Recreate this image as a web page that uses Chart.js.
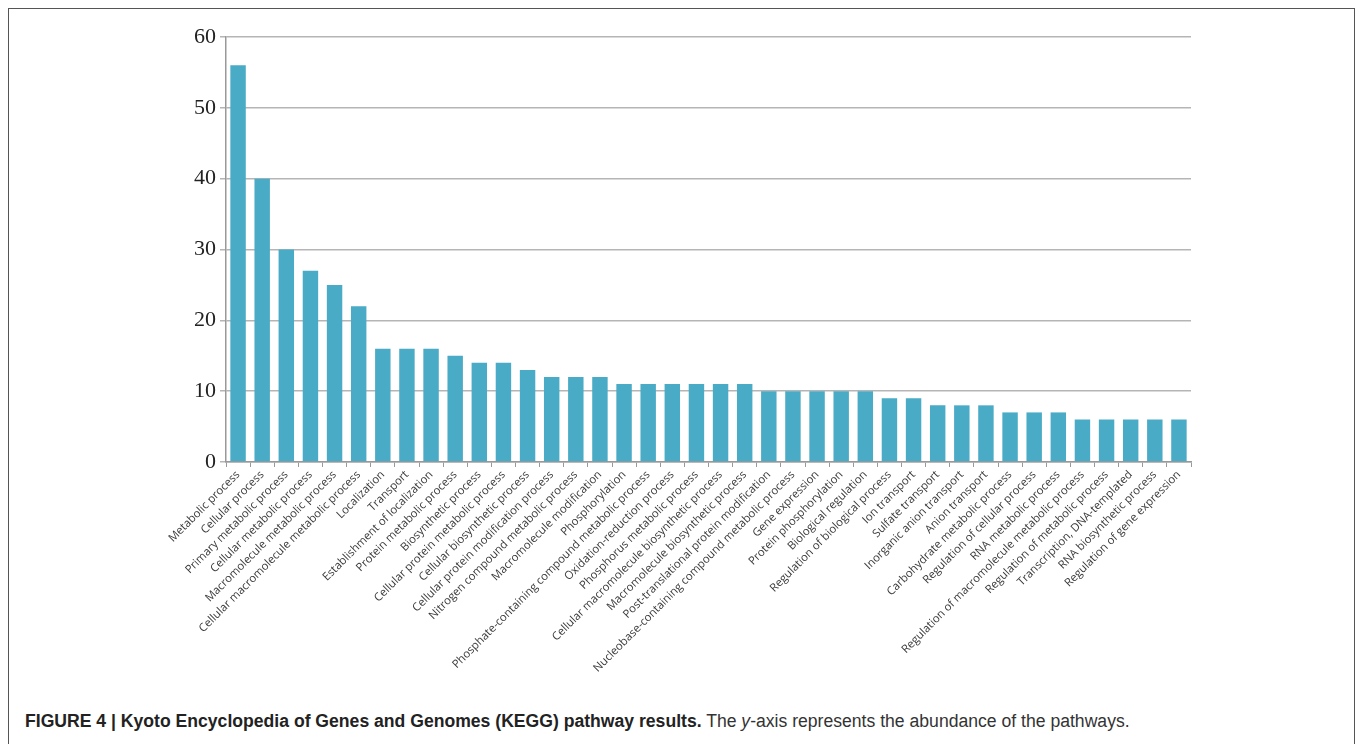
<!DOCTYPE html>
<html>
<head>
<meta charset="utf-8">
<script src="https://cdn.jsdelivr.net/npm/chart.js@4"></script>
<style>
  body { margin: 0; background: #fff; width: 1357px; height: 744px; overflow: hidden; position: relative; }
  #frame { position: absolute; left: 8px; top: 8px; width: 1347px; height: 760px; border: 1.5px solid #555; box-sizing: border-box; }
  #wrap { position: absolute; left: 0; top: 0; width: 1357px; height: 672px; }
  #caption { position: absolute; left: 25px; top: 711px; font-family: "Liberation Sans", Arial, sans-serif; font-size: 17.6px; color: #333; white-space: nowrap; }
  #caption b { color: #222; }
</style>
</head>
<body>
<div id="frame"></div>
<div id="wrap"><canvas id="myChart"></canvas></div>
<div id="caption"><b>FIGURE 4 | Kyoto Encyclopedia of Genes and Genomes (KEGG) pathway results.</b> The <i>y</i>-axis represents the abundance of the pathways.</div>
<script>
var pathways = [
  'Metabolic process', 'Cellular process', 'Primary metabolic process', 'Cellular metabolic process',
  'Macromolecule metabolic process', 'Cellular macromolecule metabolic process', 'Localization', 'Transport',
  'Establishment of localization', 'Protein metabolic process', 'Biosynthetic process',
  'Cellular protein metabolic process', 'Cellular biosynthetic process', 'Cellular protein modification process',
  'Nitrogen compound metabolic process', 'Macromolecule modification', 'Phosphorylation',
  'Phosphate-containing compound metabolic process', 'Oxidation-reduction process', 'Phosphorus metabolic process',
  'Cellular macromolecule biosynthetic process', 'Macromolecule biosynthetic process',
  'Post-translational protein modification', 'Nucleobase-containing compound metabolic process', 'Gene expression',
  'Protein phosphorylation', 'Biological regulation', 'Regulation of biological process', 'Ion transport',
  'Sulfate transport', 'Inorganic anion transport', 'Anion transport', 'Carbohydrate metabolic process',
  'Regulation of cellular process', 'RNA metabolic process', 'Regulation of macromolecule metabolic process',
  'Regulation of metabolic process', 'Transcription, DNA-templated', 'RNA biosynthetic process',
  'Regulation of gene expression'
];
var abundance = [56, 40, 30, 27, 25, 22, 16, 16, 16, 15, 14, 14, 13, 12, 12, 12, 11, 11, 11, 11, 11, 11,
  10, 10, 10, 10, 10, 9, 9, 8, 8, 8, 7, 7, 7, 6, 6, 6, 6, 6];
var yTicks = [0, 10, 20, 30, 40, 50, 60];

var ctx = document.getElementById('myChart');
var myChart = new Chart(ctx, {
  type: 'bar',
  data: {
    labels: pathways,
    datasets: [{
      label: 'Abundance',
      data: abundance,
      backgroundColor: '#4aabc6',
      barPercentage: 0.64,
      categoryPercentage: 1.0
    }]
  },
  options: {
    responsive: true,
    maintainAspectRatio: false,
    animation: false,
    layout: { padding: { left: 0, right: 166, top: 37, bottom: 0 } },
    plugins: { legend: { display: false }, tooltip: { enabled: false } },
    scales: {
      x: {
        offset: true,
        grid: { offset: true, drawOnChartArea: false, drawTicks: true, tickLength: 5, color: '#999' },
        border: { color: '#999', width: 1.5 },
        ticks: {
          autoSkip: false, maxRotation: 45, minRotation: 45, padding: 1,
          color: '#3a3a3a', font: { family: 'Open Sans', size: 11.3 }
        },
        afterFit: function(scale) { scale.height = 210; }
      },
      y: {
        min: 0, max: 60,
        afterBuildTicks: function(scale) { scale.ticks = yTicks.map(function(v) { return { value: v }; }); },
        grid: { color: '#b5b5b5', lineWidth: 1.5, tickLength: 6 },
        border: { color: '#999', width: 1.5 },
        ticks: { padding: 4, color: '#222', font: { family: 'Liberation Serif', size: 22 } },
        afterFit: function(scale) { scale.width = 226; }
      }
    }
  }
});
</script>
</body>
</html>
